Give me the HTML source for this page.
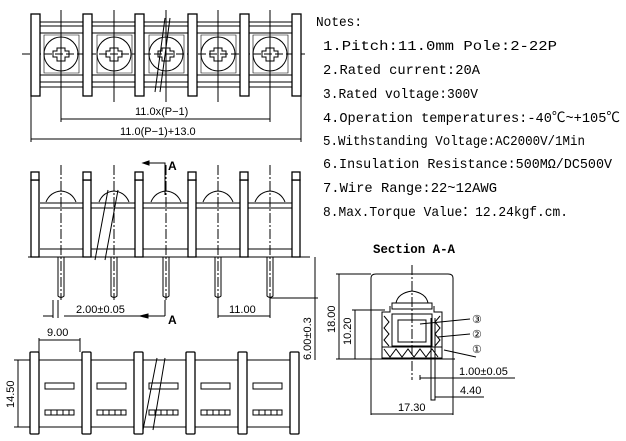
<!DOCTYPE html>
<html><head><style>
body{margin:0;background:#fff;width:626px;height:441px;overflow:hidden}
svg{display:block}
.n{font-family:"Liberation Mono","Noto Sans CJK SC",monospace;font-size:14px;fill:#000}
.d{font-family:"Liberation Sans",sans-serif;font-size:11px;fill:#000}
</style></head><body>
<svg width="626" height="441" viewBox="0 0 626 441" xmlns="http://www.w3.org/2000/svg" stroke="#000" fill="none" stroke-width="1">
<!-- TOP VIEW -->
<g>
<line x1="40" y1="22" x2="292" y2="22"/><line x1="40" y1="26" x2="292" y2="26"/>
<line x1="40" y1="33" x2="292" y2="33"/><line x1="40" y1="75" x2="292" y2="75"/>
<line x1="40" y1="82" x2="292" y2="82"/><line x1="40" y1="87" x2="292" y2="87"/>
<line x1="22" y1="54" x2="308" y2="54" stroke-dasharray="8,3"/>
<g fill="#fff" stroke-width="1.3">
<rect x="31" y="14" width="9" height="82"/><rect x="83" y="14" width="9" height="82"/><rect x="135" y="14" width="9" height="82"/>
<rect x="188" y="14" width="9" height="82"/><rect x="240" y="14" width="9" height="82"/><rect x="292" y="14" width="9" height="82"/>
</g>
<g id="sc">
<path d="M44 35 H79 V73 H44 Z" stroke-width="0.6"/>
<circle cx="61" cy="54" r="17"/>
<path d="M57 48h8v3h4v6h-4v4h-8v-4h-4v-6h4z"/>
<line x1="61" y1="10" x2="61" y2="102"/>
</g>
<use href="#sc" x="53"/><use href="#sc" x="105"/><use href="#sc" x="157"/><use href="#sc" x="209"/>
<path d="M155 92 L165 18 M160 92 L170 18" stroke="#000" fill="none"/>
<line x1="61" y1="102" x2="61" y2="122"/><line x1="270" y1="102" x2="270" y2="122"/>
<line x1="61" y1="119" x2="270" y2="119"/>
<line x1="31" y1="96" x2="31" y2="142"/><line x1="301" y1="96" x2="301" y2="142"/>
<line x1="31" y1="139" x2="301" y2="139"/>
<text class="d" x="135" y="115" stroke="none" font-size="12">11.0x(P−1)</text>
<text class="d" x="120" y="135" stroke="none" font-size="12">11.0(P−1)+13.0</text>
</g>
<!-- FRONT VIEW -->
<g>
<line x1="28" y1="257" x2="310" y2="257"/>
<line x1="40" y1="249" x2="292" y2="249"/>
<line x1="40" y1="203" x2="292" y2="203"/>
<line x1="40" y1="208" x2="292" y2="208"/>
<g fill="#fff" stroke-width="1.3">
<rect x="31" y="180" width="8" height="77"/><rect x="83" y="180" width="8" height="77"/><rect x="135" y="180" width="8" height="77"/>
<rect x="188" y="180" width="8" height="77"/><rect x="240" y="180" width="8" height="77"/><rect x="292" y="180" width="8" height="77"/>
<rect x="31" y="172" width="8" height="8"/><rect x="83" y="172" width="8" height="8"/><rect x="135" y="172" width="8" height="8"/>
<rect x="188" y="172" width="8" height="8"/><rect x="240" y="172" width="8" height="8"/><rect x="292" y="172" width="8" height="8"/>
</g>
<g id="fc">
<path d="M46 202 Q50 192 61 191 Q72 192 76 202"/>
<line x1="61" y1="165" x2="61" y2="300" stroke-dasharray="10,2,2,2"/>
<path d="M58 257 V296 Q61 299 64 296 V257"/>
</g>
<use href="#fc" x="53"/><use href="#fc" x="105"/><use href="#fc" x="157"/><use href="#fc" x="209"/>
<path d="M95 260 L108 190 M105 260 L118 190"/>
<path d="M165 195 V163 H143"/><path d="M143 163 l6 -2 v4z" fill="#000"/>
<text x="168" y="170" font-family="Liberation Sans" font-weight="bold" font-size="12" fill="#000" stroke="none">A</text>
<line x1="53" y1="300" x2="53" y2="318"/><line x1="58" y1="300" x2="58" y2="318"/>
<line x1="43" y1="316" x2="53" y2="316"/><line x1="64" y1="316" x2="165" y2="316"/>
<path d="M165 300 V316"/><path d="M140 316 l8 -2 v4z" fill="#000"/>
<text class="d" x="76" y="313" stroke="none">2.00±0.05</text>
<text x="168" y="324" font-family="Liberation Sans" font-weight="bold" font-size="12" fill="#000" stroke="none">A</text>
<line x1="218" y1="300" x2="218" y2="318"/><line x1="270" y1="300" x2="270" y2="318"/>
<line x1="218" y1="316" x2="270" y2="316"/>
<text class="d" x="229" y="313" stroke="none">11.00</text>
<line x1="270" y1="298" x2="318" y2="298"/>
<line x1="315" y1="257" x2="315" y2="360"/>
<text class="d" stroke="none" transform="translate(311,360) rotate(-90)">6.00±0.3</text>
</g>
<!-- BOTTOM VIEW -->
<g>
<line x1="14" y1="360" x2="292" y2="360"/><line x1="14" y1="427" x2="292" y2="427"/>
<line x1="18" y1="360" x2="18" y2="427"/>
<text class="d" stroke="none" transform="translate(14,408) rotate(-90)">14.50</text>
<line x1="39" y1="338" x2="39" y2="352"/><line x1="80" y1="338" x2="80" y2="352"/>
<line x1="39" y1="340" x2="80" y2="340"/>
<text class="d" x="47" y="336" stroke="none">9.00</text>
<g fill="#fff" stroke-width="1.3">
<rect x="30" y="352" width="9" height="82" rx="1"/><rect x="82" y="352" width="9" height="82" rx="1"/><rect x="134" y="352" width="9" height="82" rx="1"/>
<rect x="186" y="352" width="9" height="82" rx="1"/><rect x="238" y="352" width="9" height="82" rx="1"/><rect x="290" y="352" width="9" height="82" rx="1"/>
</g>
<g id="bc">
<rect x="45" y="383" width="29" height="6"/>
<rect x="45" y="410" width="29" height="5"/>
<path d="M51 410v5M57 410v5M63 410v5M69 410v5"/>
</g>
<use href="#bc" x="52"/><use href="#bc" x="104"/><use href="#bc" x="156"/><use href="#bc" x="208"/>
<path d="M143 430 L157 358 M153 430 L165 358"/>
</g>
<!-- NOTES -->
<g stroke="none">
<text class="n" x="316" y="26" textLength="46" lengthAdjust="spacingAndGlyphs">Notes:</text>
<text class="n" x="323" y="50" textLength="234" lengthAdjust="spacingAndGlyphs">1.Pitch:11.0mm  Pole:2-22P</text>
<text class="n" x="323" y="74" textLength="157" lengthAdjust="spacingAndGlyphs">2.Rated current:20A</text>
<text class="n" x="323" y="98" textLength="155" lengthAdjust="spacingAndGlyphs">3.Rated voltage:300V</text>
<text class="n" x="323" y="122" textLength="297" lengthAdjust="spacingAndGlyphs">4.Operation temperatures:-40℃~+105℃</text>
<text class="n" x="323" y="145" textLength="262" lengthAdjust="spacingAndGlyphs">5.Withstanding Voltage:AC2000V/1Min</text>
<text class="n" x="323" y="168" textLength="289" lengthAdjust="spacingAndGlyphs">6.Insulation Resistance:500MΩ/DC500V</text>
<text class="n" x="323" y="192" textLength="174" lengthAdjust="spacingAndGlyphs">7.Wire Range:22~12AWG</text>
<text class="n" x="323" y="216" textLength="245" lengthAdjust="spacingAndGlyphs">8.Max.Torque Value：12.24kgf.cm.</text>
<text x="373" y="253" font-family="Liberation Mono" font-weight="bold" font-size="13" fill="#000" textLength="82" lengthAdjust="spacingAndGlyphs">Section  A-A</text>
</g>
<!-- SECTION -->
<g>
<path d="M371 415 V278 Q371 274 376 274 H448 Q453 274 453 278 V415"/>
<line x1="336" y1="274" x2="371" y2="274"/><line x1="336" y1="359" x2="455" y2="359"/>
<line x1="339" y1="274" x2="339" y2="359"/>
<text class="d" stroke="none" transform="translate(335,333) rotate(-90)">18.00</text>
<line x1="352" y1="310" x2="385" y2="310"/><line x1="355" y1="310" x2="355" y2="359"/>
<text class="d" stroke="none" transform="translate(351,345) rotate(-90)">10.20</text>
<line x1="412" y1="265" x2="412" y2="380" stroke-dasharray="10,2,2,2"/>
<path d="M396 303 Q398 293 412 291 Q426 293 428 303 Z"/>
<rect x="392" y="303" width="40" height="6"/>
<path d="M382 351 V312 H390 V306 M442 351 V312 H434 V306"/>
<rect x="382" y="347" width="60" height="11" stroke-width="1"/>
<path d="M384 349 l6 8 l6 -8 l6 8 l6 -8 l6 8 l6 -8 l6 8 l6 -8 l6 8 M384 316 l5 6 l-5 6 l5 6 l-5 6 l5 6 M440 316 l-5 6 l5 6 l-5 6 l5 6 l-5 6"/>
<rect x="392" y="314" width="40" height="32"/>
<rect x="398" y="320" width="28" height="22"/>
<path d="M431 318 V400 H435 V318"/>
<line x1="420" y1="324" x2="470" y2="319"/><line x1="438" y1="337" x2="470" y2="334"/><line x1="444" y1="350" x2="476" y2="357"/>
<g stroke="none" fill="#000" font-family="Liberation Sans" font-size="11">
<text x="472" y="323">③</text><text x="472" y="338">②</text><text x="472" y="353">①</text>
</g>
<line x1="420" y1="375" x2="420" y2="380"/>
<line x1="420" y1="378" x2="515" y2="378"/>
<text class="d" x="459" y="375" stroke="none">1.00±0.05</text>
<line x1="435" y1="397" x2="484" y2="397"/>
<text class="d" x="460" y="394" stroke="none">4.40</text>
<line x1="371" y1="414" x2="453" y2="414"/>
<text class="d" x="398" y="411" stroke="none">17.30</text>
</g>
</svg>
</body></html>
